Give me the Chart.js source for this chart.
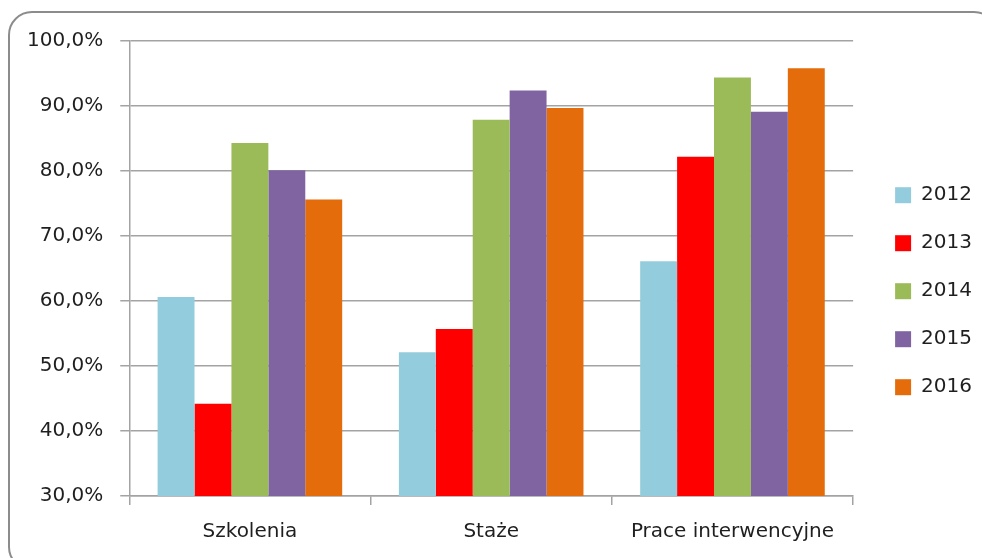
<!DOCTYPE html>
<html lang="pl">
<head>
    <meta charset="UTF-8">
    <title>Wskaźniki 2012-2016</title>
    <script src="https://cdn.jsdelivr.net/npm/chart.js"></script>
    <style>
        html, body {
            margin: 0;
            padding: 0;
            background: #fff;
            overflow: hidden;
        }
        .wrap {
            position: relative;
            width: 982px;
            height: 558px;
        }
        .frame {
            position: absolute;
            left: 8px;
            top: 11px;
            width: 990px;
            height: 560px;
            border: 2px solid #8c8c8c;
            border-radius: 24px;
            box-sizing: border-box;
            pointer-events: none;
        }
        canvas {
            position: absolute;
            left: 0;
            top: 0;
        }
    </style>
</head>
<body>
    <div class="wrap">
        <canvas id="chart" width="982" height="558"></canvas>
        <div class="frame"></div>
    </div>

    <script>
        const categories = ['Szkolenia', 'Staże', 'Prace interwencyjne'];
        const years = ['2012', '2013', '2014', '2015', '2016'];
        const colors = ['#93cddd', '#ff0000', '#9bbb59', '#8064a2', '#e46c0a'];

        // wartości w %, kolejno: Szkolenia, Staże, Prace interwencyjne
        const v2012 = [60.6, 52.1, 66.1];
        const v2013 = [44.2, 55.7, 82.2];
        const v2014 = [84.3, 87.9, 94.4];
        const v2015 = [80.1, 92.4, 89.1];
        const v2016 = [75.6, 89.7, 95.8];
        const series = [v2012, v2013, v2014, v2015, v2016];

        const font = 'DejaVu Sans';
        const textColor = '#1f1f1f';
        const gridColor = '#a3a3a3';

        new Chart(document.getElementById('chart'), {
            type: 'bar',
            data: {
                labels: categories,
                datasets: series.map((vals, i) => ({
                    label: years[i],
                    data: vals,
                    backgroundColor: colors[i],
                    borderWidth: 0,
                    categoryPercentage: 0.765,
                    barPercentage: 1.0
                }))
            },
            options: {
                responsive: false,
                animation: false,
                layout: {
                    padding: { left: 10, top: 41, right: 0, bottom: -1 }
                },
                plugins: {
                    tooltip: { enabled: false },
                    legend: {
                        position: 'right',
                        // pusty tytuł tylko po to, żeby podnieść wpisy legendy
                        title: {
                            display: true,
                            text: '',
                            font: { size: 12 },
                            padding: { top: -16, bottom: -16 }
                        },
                        labels: {
                            boxWidth: 16,
                            boxHeight: 16,
                            padding: 28,
                            color: textColor,
                            font: { family: font, size: 20 }
                        }
                    }
                },
                scales: {
                    x: {
                        grid: {
                            offset: true,
                            drawOnChartArea: false,
                            drawTicks: true,
                            tickLength: 9,
                            color: gridColor,
                            lineWidth: 1.5
                        },
                        border: { color: gridColor, width: 1.5 },
                        ticks: {
                            padding: 15,
                            color: textColor,
                            font: { family: font, size: 20 }
                        }
                    },
                    y: {
                        min: 30,
                        max: 100,
                        grid: {
                            color: gridColor,
                            lineWidth: 1.5,
                            tickLength: 9
                        },
                        border: { color: gridColor, width: 1.5 },
                        ticks: {
                            stepSize: 10,
                            padding: 17,
                            color: textColor,
                            font: { family: font, size: 20 },
                            callback: v => v.toFixed(1).replace('.', ',') + '%'
                        }
                    },
                    // pusty odstęp między wykresem a legendą
                    gap: {
                        position: 'right',
                        display: true,
                        grid: { display: false },
                        border: { display: false },
                        ticks: { display: false },
                        afterFit: s => { s.width = 14; }
                    }
                }
            }
        });
    </script>
</body>
</html>
